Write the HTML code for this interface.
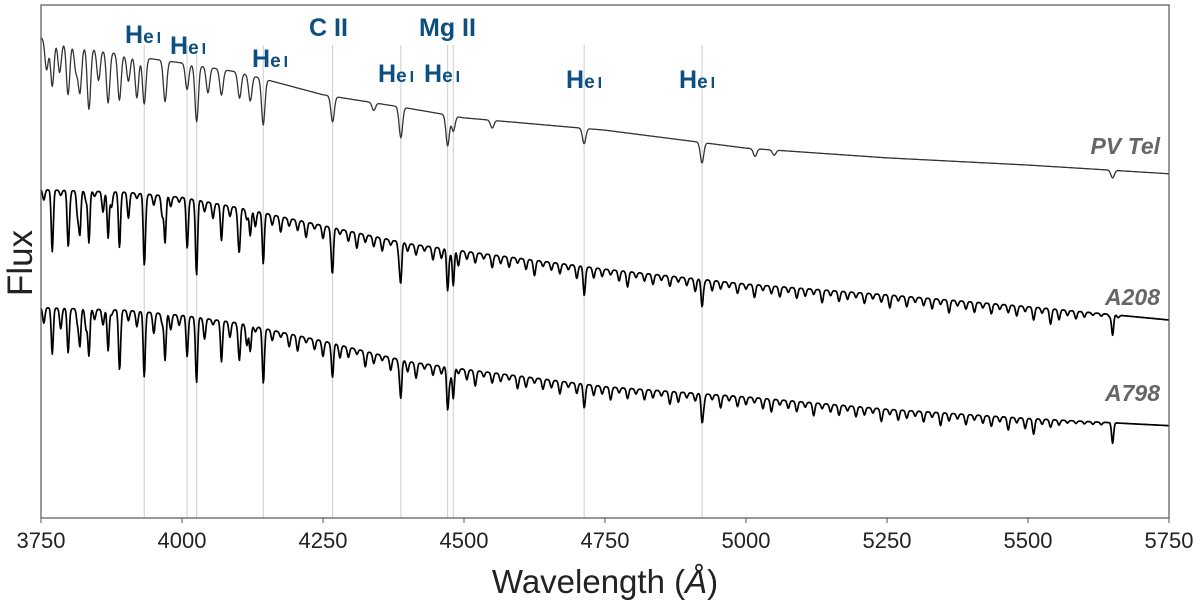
<!DOCTYPE html>
<html><head><meta charset="utf-8"><style>
body{margin:0;background:#fff;}
svg{display:block;font-family:"Liberation Sans",sans-serif;}
</style></head><body>
<svg id="chart" width="1200" height="612" viewBox="0 0 1200 612" xmlns="http://www.w3.org/2000/svg"></svg>
<script>
// ---- data ----
const xTicks=[3750,4000,4250,4500,4750,5000,5250,5500,5750];
const lineWaves=[3933,4009,4026,4144,4267,4388,4471,4481,4713,4922];
const contWaves=[3750,3900,4000,4100,4250,4400,4500,4750,5000,5250,5500,5750];
const pvtelCont=[93.6,90.2,88.7,86.9,82.5,79.9,78.0,75.6,72.1,70.2,68.8,67.1];
const a208Cont=[64,63.5,62.5,60.5,57,53.5,52,48.5,45.6,43.5,41.2,38.6];
const a798Cont=[41,40.5,39.5,38,34.5,30.5,29,25.6,23.6,21.2,19.4,18];
const pvtelLineW=[3760,3770,3783,3798,3812,3819,3835,3852,3869,3889,3905,3920,3933,3970,4009,4026,4046,4070,4102,4121,4144,4267,4340,4388,4471,4481,4550,4713,4922,5016,5050,5650];
const pvtelLineD=[6,9,6,10,5,9,12,6,10,9,5,8,9,8,5,11,5,5,5,5,9,5,1.5,6,6,3,1.5,3,4,1.5,1,1.5];
const a208LineW=[3770,3798,3819,3835,3869,3889,3933,3970,4009,4026,4070,4102,4121,4144,4267,4388,4471,4481,4713,4922,5650];
const a208LineD=[8,9,8,10,9,9,12,9,7,11,6,6,5,9,7,7,8,7,5,5,4];
const a798LineW=[3770,3798,3819,3835,3869,3889,3933,3970,4009,4026,4070,4102,4121,4144,4267,4388,4471,4481,4713,4922,5650];
const a798LineD=[7,8,7,9,8,8,12,9,7,10,6,6,5,8,6,7,8,6,4,5,4];
// small metal-line depths on a 15 Å grid starting at 3755
const metalD=[2,4,1,3,5,2,1,4,3,2,5,1,3,2,4,2,1,3,4,2,3,1,2,4,2,3,1,2,3,1.5,2,3,1,2.5,3,1,2,3,1.5,2,2.5,1,3,1.5,2,1,2.5,2,1,3,1.5,2,1,2.5,1.5,2,1,2,3,1,1.5,2,1,2.5,1,2,1.5,1,2,3,1,1.5,2,1,2,1,1.5,2.5,1,2,1.5,1,2,1,2.5,1,1.5,2,1,2,1.5,1,2.5,1,2,1.5,1,2,1,1.5,2.5,1,2,1,1.5,2,1,2.5,1,1.5,2,1,2,1,1.5,2,1,2.5,1,3,2,1,1.5,1,0.5,0.5,0.5,0.5];
const metalD2=[3,2,4,1,3,4,2,3,1,4,2,3,1,4,2,3,2,1,3,4,1,2,3,2,4,1,3,2,1,2.5,3,1,2,3,1,2.5,2,1,3,2,1,2.5,1.5,2,3,1,2,1.5,2.5,1,2,3,1,2,1.5,1,2.5,2,1,2,1.5,2.5,1,2,1,2,1.5,2.5,1,2,1,2,1.5,1,2.5,2,1,1.5,2,1,2.5,1,2,1.5,1,2,2.5,1,1.5,2,1,2.5,1,1.5,2,1,2,1.5,1,2.5,1,2,1.5,1,2,1,2.5,1.5,1,2,1,1.5,2,1,2.5,1,2,3,1,1.5,1,0.5,0.5,0.5,0.5,0.5];

// ---- scales ----
const X0=41,X1=1169,Y0=518,Y1=5;
const xs=w=>X0+(w-3750)/(2000)*(X1-X0);
const ys=f=>Y0-f/100*(Y0-Y1);
const NS="http://www.w3.org/2000/svg";
const svg=document.getElementById('chart');
function mk(t,a,p){const e=document.createElementNS(NS,t);for(const k in a)e.setAttribute(k,a[k]);(p||svg).appendChild(e);return e;}

lineWaves.forEach(w=>{
  const l=mk('line',{x1:xs(w),x2:xs(w),y1:45,y2:Y0,stroke:'#ccc','stroke-width':1});
  
  
});

function interp(ws,vs,w){for(let i=0;i<ws.length-1;i++){if(w<=ws[i+1]){const t=(w-ws[i])/(ws[i+1]-ws[i]);return vs[i]+t*(vs[i+1]-vs[i]);}}return vs[vs.length-1];}
function drawSpec(cont,lw,ld,width,metal,mw,name,sw,col){
  let d='';
  for(let w=3750;w<=5750;w+=1){
    let f=interp(contWaves,cont,w);
    for(let i=0;i<lw.length;i++){const z=(w-lw[i])/width;if(Math.abs(z)<5)f-=ld[i]*Math.exp(-z*z/2);}
    if(metal){for(let i=0;i<metal.length;i++){const z=(w-(3755+15*i))/mw;if(Math.abs(z)<5)f-=metal[i]*Math.exp(-z*z/2);}}
    d+=(d?'L':'M')+xs(w).toFixed(1)+','+ys(f).toFixed(1);
  }
  const p=mk('path',{d:d,fill:'none',stroke:col,'stroke-width':sw,'stroke-linejoin':'round'});
  
  
}
drawSpec(pvtelCont,pvtelLineW,pvtelLineD,3,null,0,'pvtel-spectrum',1.3,'#333');
drawSpec(a208Cont,a208LineW,a208LineD,1.8,metalD,2,'a208-spectrum',1.7,'#000');
drawSpec(a798Cont,a798LineW,a798LineD,1.8,metalD2,2,'a798-spectrum',1.7,'#000');

const fr=mk('rect',{x:X0,y:Y1,width:X1-X0,height:Y0-Y1,fill:'none',stroke:'#555','stroke-width':1.2});


xTicks.forEach(t=>{
  const tk=mk('line',{x1:xs(t),x2:xs(t),y1:Y0,y2:Y0+5,stroke:'#555'});
  
  const tx=mk('text',{x:xs(t),y:548,'text-anchor':'middle','font-size':22,fill:'#222'});
  tx.textContent=t;
  
});
</script>
<script>
(function(){
const svg=document.getElementById('chart');const NS="http://www.w3.org/2000/svg";
function t(x,y,txt,a,name){const e=document.createElementNS(NS,'text');for(const k in a)e.setAttribute(k,a[k]);e.setAttribute('x',x);e.setAttribute('y',y);e.innerHTML=txt;svg.appendChild(e);return e;}
const blue={fill:'#0d4f80','font-weight':'bold','font-size':25};
const he='H<tspan font-size="19">e</tspan><tspan font-size="16" dx="3">I</tspan>';
t(125,43,he,blue,'he-i-label-3933');
t(170,54,he,blue,'he-i-label-4026');
t(252,67,he,blue,'he-i-label-4144');
t(378,82,he,blue,'he-i-label-4388');
t(424,82,he,blue,'he-i-label-4471');
t(566,88,he,blue,'he-i-label-4713');
t(679,88,he,blue,'he-i-label-4922');
t(309,36,'C II',blue,'c-ii-label');
t(419,36,'Mg II',blue,'mg-ii-label');
const grey={fill:'#666','font-weight':'bold','font-style':'italic','font-size':23,'text-anchor':'end'};
t(1160,154,'PV Tel',grey,'pvtel-label');
t(1160,305,'A208',grey,'a208-label');
t(1160,401,'A798',grey,'a798-label');
t(605,593,'Wavelength (<tspan font-style="italic">Å</tspan>)',{'font-size':33,'text-anchor':'middle',fill:'#222'},'x-axis-title');
t(0,0,'Flux',{'font-size':35,'text-anchor':'middle',fill:'#222',transform:'translate(32,263) rotate(-90)'},'y-axis-title');
})();
</script>
</body></html>
